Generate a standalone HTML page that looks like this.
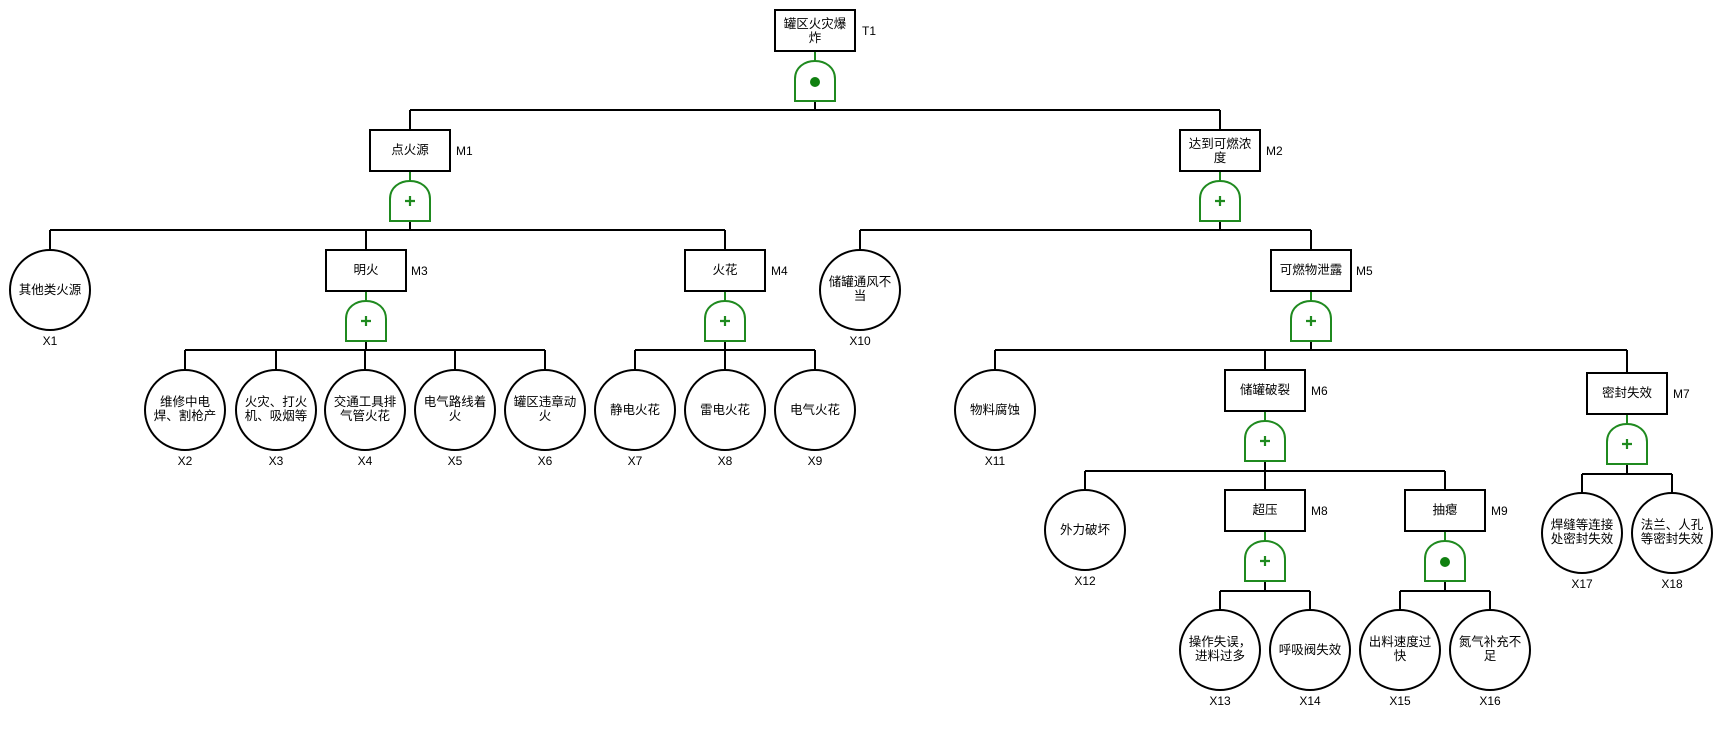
<!DOCTYPE html>
<html><head><meta charset="utf-8"><style>
html,body{margin:0;padding:0;background:#fff;}
svg{display:block;}
text{font-family:"Liberation Sans","Noto Sans CJK SC",sans-serif;font-size:12.5px;fill:#000;}
.l{font-size:12px;}
.b{fill:#fff;stroke:#000;stroke-width:2;}
.k{stroke:#000;stroke-width:2;fill:none;}
.g{fill:#fff;stroke:#1f8a1f;stroke-width:2;}
.gl{stroke:#1f8a1f;stroke-width:2;fill:none;}
.p{stroke:#1f8a1f;stroke-width:2.2;}
.d{fill:#108010;}
</style></head><body>
<svg width="1722" height="750" viewBox="0 0 1722 750" xmlns="http://www.w3.org/2000/svg">
<!-- connectors -->
<g class="k">
<path d="M815,101V110M410,110H1220M410,110V130M1220,110V130"/>
<path d="M410,221V230M50,230H725M50,230V250M366,230V250M725,230V250"/>
<path d="M1220,221V230M860,230H1311M860,230V250M1311,230V250"/>
<path d="M366,341V350M185,350H545M185,350V370M276,350V370M365,350V370M455,350V370M545,350V370"/>
<path d="M725,341V350M635,350H815M635,350V370M725,350V370M815,350V370"/>
<path d="M1311,341V350M995,350H1627M995,350V370M1265,350V370M1627,350V373"/>
<path d="M1265,461V471M1085,471H1445M1085,471V490M1265,471V490M1445,471V490"/>
<path d="M1627,464V474M1582,474H1672M1582,474V493M1672,474V493"/>
<path d="M1265,581V591M1220,591H1310M1220,591V610M1310,591V610"/>
<path d="M1445,581V591M1400,591H1490M1400,591V610M1490,591V610"/>
</g>
<!-- green box-gate links -->
<g class="gl">
<path d="M815,51V61M410,171V181M1220,171V181M366,291V301M725,291V301M1311,291V301M1265,411V421M1627,414V424M1265,531V541M1445,531V541"/>
</g>
<!-- gates -->
<g class="g">
<path d="M795,101V79C795,67 805,61 815,61C825,61 835,67 835,79V101Z"/>
<path d="M390,221V199C390,187 400,181 410,181C420,181 430,187 430,199V221Z"/>
<path d="M1200,221V199C1200,187 1210,181 1220,181C1230,181 1240,187 1240,199V221Z"/>
<path d="M346,341V319C346,307 356,301 366,301C376,301 386,307 386,319V341Z"/>
<path d="M705,341V319C705,307 715,301 725,301C735,301 745,307 745,319V341Z"/>
<path d="M1291,341V319C1291,307 1301,301 1311,301C1321,301 1331,307 1331,319V341Z"/>
<path d="M1245,461V439C1245,427 1255,421 1265,421C1275,421 1285,427 1285,439V461Z"/>
<path d="M1607,464V442C1607,430 1617,424 1627,424C1637,424 1647,430 1647,442V464Z"/>
<path d="M1245,581V559C1245,547 1255,541 1265,541C1275,541 1285,547 1285,559V581Z"/>
<path d="M1425,581V559C1425,547 1435,541 1445,541C1455,541 1465,547 1465,559V581Z"/>
</g>
<circle class="d" cx="815" cy="82" r="5"/>
<circle class="d" cx="1445" cy="562" r="5"/>
<g class="p">
<path d="M405,201H415M410,196V206"/>
<path d="M1215,201H1225M1220,196V206"/>
<path d="M361,321H371M366,316V326"/>
<path d="M720,321H730M725,316V326"/>
<path d="M1306,321H1316M1311,316V326"/>
<path d="M1260,441H1270M1265,436V446"/>
<path d="M1622,444H1632M1627,439V449"/>
<path d="M1260,561H1270M1265,556V566"/>
</g>
<!-- boxes -->
<g class="b">
<rect x="775" y="10" width="80" height="41"/>
<rect x="370" y="130" width="80" height="41"/>
<rect x="1180" y="130" width="80" height="41"/>
<rect x="326" y="250" width="80" height="41"/>
<rect x="685" y="250" width="80" height="41"/>
<rect x="1271" y="250" width="80" height="41"/>
<rect x="1225" y="370" width="80" height="41"/>
<rect x="1587" y="373" width="80" height="41"/>
<rect x="1225" y="490" width="80" height="41"/>
<rect x="1405" y="490" width="80" height="41"/>
</g>
<!-- circles -->
<g class="b">
<circle cx="50" cy="290" r="40"/>
<circle cx="860" cy="290" r="40"/>
<circle cx="185" cy="410" r="40"/>
<circle cx="276" cy="410" r="40"/>
<circle cx="365" cy="410" r="40"/>
<circle cx="455" cy="410" r="40"/>
<circle cx="545" cy="410" r="40"/>
<circle cx="635" cy="410" r="40"/>
<circle cx="725" cy="410" r="40"/>
<circle cx="815" cy="410" r="40"/>
<circle cx="995" cy="410" r="40"/>
<circle cx="1085" cy="530" r="40"/>
<circle cx="1220" cy="650" r="40"/>
<circle cx="1310" cy="650" r="40"/>
<circle cx="1400" cy="650" r="40"/>
<circle cx="1490" cy="650" r="40"/>
<circle cx="1582" cy="533" r="40"/>
<circle cx="1672" cy="533" r="40"/>
</g>
<!-- box texts -->
<g text-anchor="middle">
<text x="815" y="28">罐区火灾爆</text><text x="815" y="42">炸</text>
<text x="410" y="154">点火源</text>
<text x="1220" y="148">达到可燃浓</text><text x="1220" y="162">度</text>
<text x="366" y="274">明火</text>
<text x="725" y="274">火花</text>
<text x="1311" y="274">可燃物泄露</text>
<text x="1265" y="394">储罐破裂</text>
<text x="1627" y="397">密封失效</text>
<text x="1265" y="514">超压</text>
<text x="1445" y="514">抽瘪</text>
<!-- circle texts -->
<text x="50" y="294">其他类火源</text>
<text x="860" y="286">储罐通风不</text><text x="860" y="300">当</text>
<text x="185" y="406">维修中电</text><text x="185" y="420">焊、割枪产</text>
<text x="276" y="406">火灾、打火</text><text x="276" y="420">机、吸烟等</text>
<text x="365" y="406">交通工具排</text><text x="365" y="420">气管火花</text>
<text x="455" y="406">电气路线着</text><text x="455" y="420">火</text>
<text x="545" y="406">罐区违章动</text><text x="545" y="420">火</text>
<text x="635" y="414">静电火花</text>
<text x="725" y="414">雷电火花</text>
<text x="815" y="414">电气火花</text>
<text x="995" y="414">物料腐蚀</text>
<text x="1085" y="534">外力破坏</text>
<text x="1220" y="646">操作失误，</text><text x="1220" y="660">进料过多</text>
<text x="1310" y="654">呼吸阀失效</text>
<text x="1400" y="646">出料速度过</text><text x="1400" y="660">快</text>
<text x="1490" y="646">氮气补充不</text><text x="1490" y="660">足</text>
<text x="1582" y="529">焊缝等连接</text><text x="1582" y="543">处密封失效</text>
<text x="1672" y="529">法兰、人孔</text><text x="1672" y="543">等密封失效</text>
<!-- X labels -->
<text class="l" x="50" y="345">X1</text>
<text class="l" x="860" y="345">X10</text>
<text class="l" x="185" y="465">X2</text>
<text class="l" x="276" y="465">X3</text>
<text class="l" x="365" y="465">X4</text>
<text class="l" x="455" y="465">X5</text>
<text class="l" x="545" y="465">X6</text>
<text class="l" x="635" y="465">X7</text>
<text class="l" x="725" y="465">X8</text>
<text class="l" x="815" y="465">X9</text>
<text class="l" x="995" y="465">X11</text>
<text class="l" x="1085" y="585">X12</text>
<text class="l" x="1220" y="705">X13</text>
<text class="l" x="1310" y="705">X14</text>
<text class="l" x="1400" y="705">X15</text>
<text class="l" x="1490" y="705">X16</text>
<text class="l" x="1582" y="588">X17</text>
<text class="l" x="1672" y="588">X18</text>
</g>
<!-- M labels -->
<text class="l" x="862" y="35">T1</text>
<text class="l" x="456" y="155">M1</text>
<text class="l" x="1266" y="155">M2</text>
<text class="l" x="411" y="275">M3</text>
<text class="l" x="771" y="275">M4</text>
<text class="l" x="1356" y="275">M5</text>
<text class="l" x="1311" y="395">M6</text>
<text class="l" x="1673" y="398">M7</text>
<text class="l" x="1311" y="515">M8</text>
<text class="l" x="1491" y="515">M9</text>
</svg>
</body></html>
